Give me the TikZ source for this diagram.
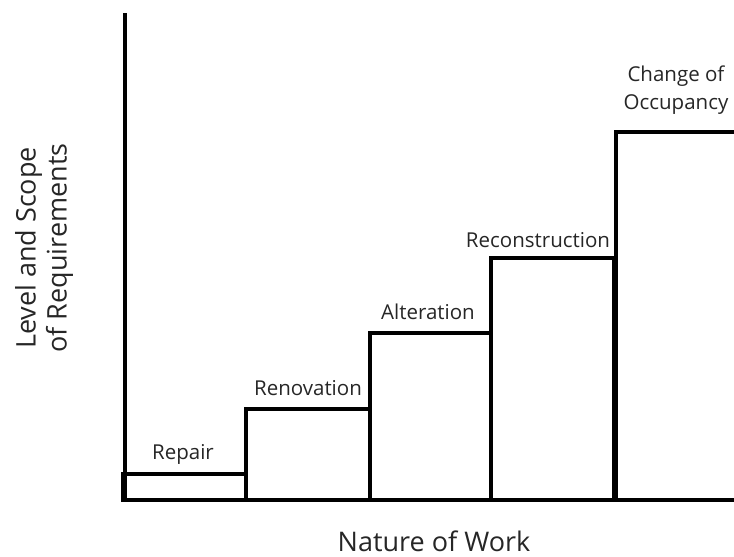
\documentclass[tikz,border=0pt]{standalone}
\usepackage{fontspec}
\setmainfont{Open Sans}
\begin{document}
\begin{tikzpicture}[x=1pt,y=-1pt,
  bar/.style={line width=4pt,line join=miter},
  axis/.style={line width=4.5pt},
  lbl/.style={font=\fontsize{20.5}{24}\selectfont,text=black!85,inner sep=0pt},
  axlbl/.style={font=\fontsize{27}{31}\selectfont,text=black!85,inner sep=0pt,align=center}]
\useasboundingbox (0,0) rectangle (734,557);
% axes
\coordinate (top) at (125,13);
\coordinate (origin) at (125,500);
\coordinate (xend) at (734,500);
\draw[axis] (top) -- (origin);
\draw[axis] (121,500) -- (xend);
% bars
\draw[bar] (123,500) |- (246,474) -- (246,500);
\draw[bar] (246,500) |- (370,409) -- (370,500);
\draw[bar] (370,500) |- (491,333) -- (491,500);
\draw[bar] (491,500) |- (614,258) -- (614,500);
\draw[bar] (616,500) -- (616,132) -- (736,132);
% labels
\node[lbl] (repair) at (183,454) {Repair};
\node[lbl] (renov) at (308,388) {Renovation};
\node[lbl] (alter) at (428,312) {Alteration};
\node[lbl] (recon) at (538,240) {Reconstruction};
\node[lbl,align=center,font=\fontsize{20.5}{28}\selectfont] (change) at (676,90) {Change of\\Occupancy};
\node[axlbl] (xlabel) at (434,541) {Nature of Work};
\node[axlbl,rotate=90] (ylabel) at (44,248) {Level and Scope\\of Requirements};
\end{tikzpicture}
\end{document}
